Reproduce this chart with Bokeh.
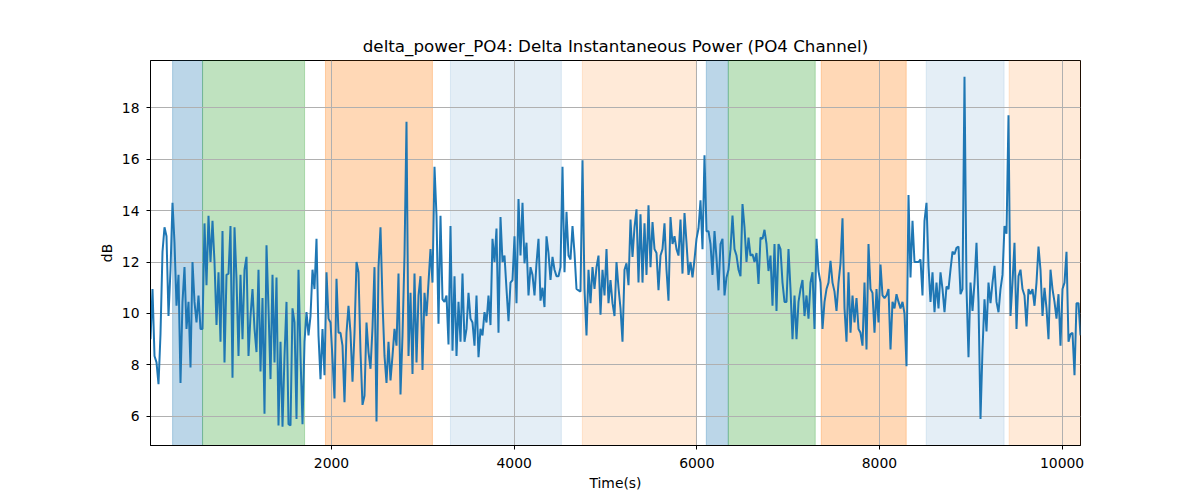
import numpy as np
from bokeh.plotting import figure
from bokeh.models import Range1d, FixedTicker, ColumnDataSource
from bokeh.embed import file_html
from bokeh.resources import INLINE

TITLE = "delta_power_PO4: Delta Instantaneous Power (PO4 Channel)"
X_LABEL = "Time(s)"
Y_LABEL = "dB"

# regular sampling of the time axis (seconds)
T0 = 18.0
STEP = 21.9

db_seg1 = [9.0, 10.95, 8.35, 8.1, 7.25, 9.2, 12.4, 13.35, 13.0, 9.9,
           11.7, 14.3, 12.75, 10.3, 11.5, 7.3, 10.45, 11.8, 9.4, 10.45,
           7.9, 12.0, 10.45, 9.65, 10.7, 9.4, 9.4, 13.5, 11.1, 13.8,
           12.0, 13.6, 12.0, 9.55, 11.6, 8.9, 13.2, 8.1, 11.5, 11.55,
           13.4, 7.5, 13.35, 11.35, 8.35, 11.5, 9.0, 11.7, 12.2, 8.35,
           9.9, 10.95, 9.4, 8.5, 11.7, 7.75, 10.6, 6.1]
db_seg2 = [12.65, 10.2, 7.45, 11.5, 8.1, 11.4, 5.65, 8.9, 5.6, 8.35,
           10.45, 5.7, 5.65, 10.2, 9.65, 5.9, 11.7, 8.35, 5.7, 8.9,
           10.05, 9.15, 9.9, 11.7, 10.95, 12.9, 9.15, 7.45, 9.4, 7.6,
           11.6, 9.8, 9.65, 8.25, 6.7, 11.35, 9.25, 9.25, 8.75, 6.55,
           9.25, 10.3, 9.25, 7.35, 9.25, 12.0, 11.6, 8.5, 6.45, 6.8,
           9.65, 8.5, 7.85, 9.45, 11.8, 5.8, 11.8, 13.35, 10.45, 8.35]
db_seg3 = [7.3, 8.9, 7.4, 8.35, 9.4, 8.75, 11.55, 6.85, 9.15, 12.25,
           17.45, 8.35, 10.8, 7.65, 11.55, 8.1, 10.7, 11.45, 7.8, 10.8,
           9.9, 11.2, 12.5, 11.2, 15.7, 13.8, 9.6, 13.8, 10.55, 10.45,
           10.7, 8.8, 13.4, 8.55, 11.45, 8.35, 10.45, 8.9, 11.55, 8.9,
           9.4, 10.8, 9.8, 9.65, 8.75, 10.7, 8.3, 9.4, 9.15, 10.05,
           9.65, 10.7, 9.55, 12.9, 12.0, 13.3, 9.25, 13.75, 12.0, 12.25]
db_seg4 = [10.95, 9.7, 11.2, 11.3, 13.0, 10.4, 14.45, 12.25, 14.3, 11.95,
           12.75, 10.7, 11.8, 11.5, 10.7, 11.95, 12.9, 10.5, 11.0, 10.25,
           13.0, 12.35, 11.3, 12.2, 11.7, 11.45, 11.45, 11.8, 15.7, 11.6,
           13.95, 12.25, 12.1, 13.4, 12.35, 10.95, 10.9, 10.85, 15.95, 10.95,
           9.15, 11.7, 10.4, 11.8, 10.95, 11.8, 12.25, 9.95, 11.7, 10.7,
           12.5, 10.4, 11.3, 10.4, 9.9, 12.0, 11.0, 10.2, 8.9, 11.7]
db_seg5 = [11.95, 11.1, 13.65, 12.2, 13.35, 14.05, 11.2, 13.85, 11.2, 13.5,
           11.5, 14.2, 11.8, 13.55, 12.5, 12.35, 10.9, 12.25, 12.5, 13.5,
           11.7, 10.5, 13.75, 12.7, 13.0, 12.5, 12.25, 13.65, 11.55, 13.9,
           12.75, 11.5, 12.0, 11.4, 12.1, 12.9, 13.3, 14.4, 12.5, 16.15,
           13.2, 13.2, 12.7, 11.5, 13.2, 12.15, 10.9, 12.7, 12.9, 10.7,
           11.4, 11.7, 12.5, 13.8, 12.5, 12.25, 11.7, 11.45, 14.25, 13.35]
db_seg6 = [12.0, 12.95, 12.25, 12.3, 12.0, 12.35, 11.15, 12.95, 12.9, 13.25,
           12.7, 11.65, 12.25, 10.3, 12.7, 10.1, 12.7, 12.5, 11.2, 10.45,
           10.45, 12.5, 10.95, 9.0, 10.7, 9.0, 10.45, 10.95, 11.3, 9.9,
           10.7, 9.8, 11.2, 11.6, 9.4, 12.9, 11.65, 11.2, 9.4, 10.45,
           10.95, 11.2, 12.05, 11.2, 10.85, 10.1, 11.2, 11.95, 13.7, 10.2,
           8.9, 11.6, 9.25, 10.7, 9.65, 10.6, 9.4, 9.25, 8.75, 11.2]
db_seg7 = [8.6, 12.7, 10.95, 10.8, 9.25, 10.95, 9.65, 11.9, 10.7, 10.6,
           10.7, 10.95, 8.6, 10.45, 10.2, 10.75, 10.45, 10.2, 10.45, 10.0,
           7.95, 14.6, 11.4, 13.6, 12.0, 12.0, 12.0, 12.1, 10.7, 13.6,
           14.3, 11.85, 10.45, 11.6, 10.05, 11.2, 10.2, 11.6, 10.95, 10.05,
           11.05, 10.95, 11.7, 12.4, 12.3, 12.55, 12.6, 10.75, 10.95, 19.2,
           11.0, 8.3]
db_seg8 = [11.2, 10.1, 11.2, 12.75, 10.45, 5.9, 8.6, 10.55, 9.3, 11.2,
           10.4, 11.2, 11.85, 10.45, 10.05, 10.95, 11.5, 13.4, 13.1, 17.7,
           9.9, 11.2, 12.75, 9.4, 11.45, 11.7, 10.95, 10.7, 9.5, 10.95,
           10.75, 10.95, 10.3, 11.2, 12.6, 11.7, 9.9, 11.0, 10.2, 9.0,
           11.7, 10.95, 10.45, 9.8, 10.75, 8.75, 10.95, 11.2, 12.4, 8.9,
           9.2, 9.25, 7.6, 10.4, 10.4, 9.15]

# shaded intervals (seconds)
band_start = [260, 588, 1934, 3302, 4747, 6104, 6345, 7363, 8512, 9420]
band_end = [588, 1705, 3105, 4517, 5995, 6345, 7297, 8293, 9365, 10202]
band_color = ["#1f77b4", "#2ca02c", "#ff7f0e", "#1f77b4", "#ff7f0e",
              "#1f77b4", "#2ca02c", "#ff7f0e", "#1f77b4", "#ff7f0e"]
band_alpha = [0.3, 0.3, 0.3, 0.12, 0.16, 0.3, 0.3, 0.3, 0.12, 0.16]

x_ticks = [2000, 4000, 6000, 8000, 10000]
y_ticks = [6, 8, 10, 12, 14, 16, 18]

db = (db_seg1 + db_seg2 + db_seg3 + db_seg4 + db_seg5 + db_seg6
      + db_seg7 + db_seg8)
t = T0 + STEP * np.arange(len(db))

FONT = "DejaVu Sans"

p = figure(width=1192, height=496, output_backend="svg", toolbar_location=None,
           x_range=Range1d(float(t[0]), float(t[-1])),
           y_range=Range1d(4.87, 19.83),
           min_border_left=150, min_border_right=112,
           min_border_top=60, min_border_bottom=51)

p.title.text = TITLE
p.title.align = "center"
p.title.text_font = FONT
p.title.text_font_size = "16.7px"
p.title.text_font_style = "normal"
p.title.text_color = "black"

band_src = ColumnDataSource(dict(left=band_start, right=band_end,
                                 color=band_color, alpha=band_alpha))
p.quad(left="left", right="right", bottom=-100, top=100, source=band_src,
       fill_color="color", fill_alpha="alpha", line_color="color",
       line_alpha="alpha", line_width=1, level="image")

p.line(t, db, line_color="#1f77b4", line_width=2)

p.xaxis.ticker = FixedTicker(ticks=x_ticks)
p.yaxis.ticker = FixedTicker(ticks=y_ticks)
p.xaxis.axis_label = X_LABEL
p.yaxis.axis_label = Y_LABEL
for ax in (p.xaxis, p.yaxis):
    ax.axis_label_text_font = FONT
    ax.axis_label_text_font_size = "13.9px"
    ax.axis_label_text_font_style = "normal"
    ax.axis_label_text_color = "black"
    ax.major_label_text_font = FONT
    ax.major_label_text_font_size = "13.9px"
    ax.major_label_text_color = "black"
    ax.major_tick_out = 4
    ax.major_tick_in = 0
    ax.minor_tick_out = 0
    ax.minor_tick_in = 0
    ax.axis_line_color = "black"
    ax.major_tick_line_color = "black"
p.xaxis.major_label_standoff = 8
p.xaxis.axis_label_standoff = 4
p.yaxis.major_label_standoff = 7
p.yaxis.axis_label_standoff = 4

p.xgrid.grid_line_color = "#b0b0b0"
p.ygrid.grid_line_color = "#b0b0b0"
p.xgrid.grid_line_width = 1
p.ygrid.grid_line_width = 1
p.outline_line_color = "black"
p.outline_line_width = 1
p.outline_line_alpha = 1
p.background_fill_color = "white"
p.border_fill_color = "white"

open("out.html", "w").write(file_html(p, INLINE))
